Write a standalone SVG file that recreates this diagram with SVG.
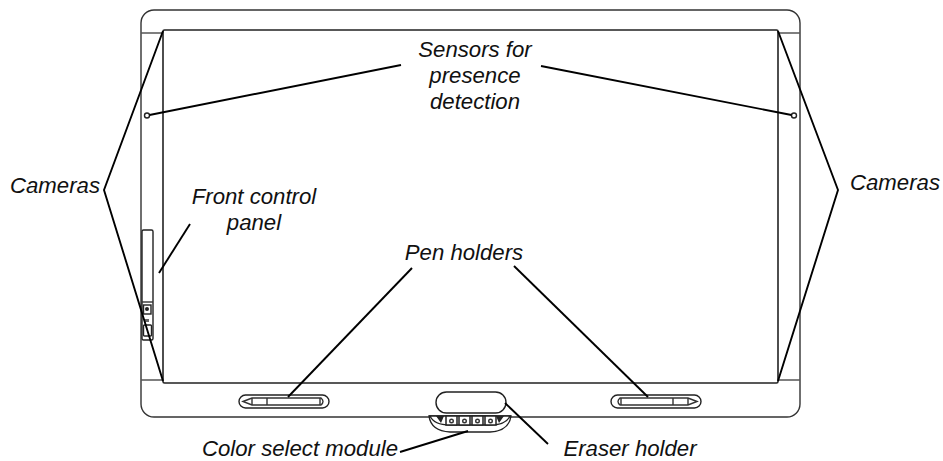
<svg xmlns="http://www.w3.org/2000/svg" width="943" height="461" viewBox="0 0 943 461">
<style>
text{font-family:"Liberation Sans",Arial,sans-serif;font-style:italic;font-size:22.2px;fill:#111;text-anchor:middle}
.o{fill:none;stroke:#333;stroke-width:1.4}
.t{fill:none;stroke:#555;stroke-width:1.4}
.w{fill:#fff;stroke:#222;stroke-width:1.4}
.l{fill:none;stroke:#000;stroke-width:1.9}
</style>
<rect width="943" height="461" fill="#fff"/>
<g id="board">
<rect class="o" x="141" y="10" width="659" height="407" rx="13"/>
<path class="t" d="M141 33H163M778 33H800M141 380H163M778 380H800"/>
<rect x="163" y="30" width="615" height="353" rx="1.5" fill="#fff" stroke="#222" stroke-width="1.6"/>
</g>
<g id="front-control-panel">
<rect class="w" x="142" y="230" width="11" height="110" rx="1.5"/>
<path class="o" d="M142 302H153"/>
<rect class="w" x="143.500" y="305" width="7.500" height="9"/>
<circle cx="147" cy="309" r="2" fill="#222"/>
<rect x="144" y="319" width="5" height="3" fill="#666"/>
<rect class="w" x="143.500" y="325" width="8" height="11" rx="1"/>
</g>
<g id="sensors">
<circle class="w" cx="147" cy="115.500" r="2.500"/>
<circle class="w" cx="794" cy="115.500" r="2.500"/>
</g>
<g id="pen-holder-left">
<rect class="w" x="239" y="395" width="90" height="13" rx="6.500"/>
<path class="o" d="M243 401.500L252 398H321Q325 401.500 321 405H252Z"/>
<path class="o" d="M252 398V405M267 398V405M320 398V405"/>
</g>
<g id="pen-holder-right">
<rect class="w" x="611" y="395" width="90" height="13" rx="6.500"/>
<path class="o" d="M697 401.500L688 398H620Q616 401.500 620 405H688Z"/>
<path class="o" d="M688 398V405M673 398V405M621 398V405"/>
</g>
<g id="color-select-module">
<path class="w" d="M429 416H511Q509 431 490 432H450Q431 431 429 416Z"/>
<path class="w" d="M430 416H510Q506 425 490 425H450Q434 425 430 416Z"/>
<path d="M436 416H444L441 423ZM504 416H496L499 423Z" fill="#222"/>
<rect x="446" y="416" width="11" height="9" fill="#fff" stroke="#222" stroke-width="1.500"/>
<rect x="459" y="416" width="11" height="9" fill="#fff" stroke="#222" stroke-width="1.500"/>
<rect x="472" y="416" width="11" height="9" fill="#fff" stroke="#222" stroke-width="1.500"/>
<rect x="485" y="416" width="11" height="9" fill="#fff" stroke="#222" stroke-width="1.500"/>
<circle class="o" cx="451.500" cy="421" r="1.800"/>
<circle class="o" cx="464.500" cy="421" r="1.800"/>
<circle class="o" cx="477.500" cy="421" r="1.800"/>
<circle class="o" cx="490.500" cy="421" r="1.800"/>
</g>
<g id="eraser-holder">
<rect class="w" x="436" y="392" width="70" height="21" rx="10.500"/>
</g>
<g id="connectors">
<path class="l" d="M163 31L104 190L163 381"/>
<path class="l" d="M778 31L838 190L778 381"/>
<path class="l" d="M149.500 115L401 65"/>
<path class="l" d="M791.500 115L541 66"/>
<path class="l" d="M159 273L190 224"/>
<path class="l" d="M288 397L412 268"/>
<path class="l" d="M648 397L514 266"/>
<path class="l" d="M505 403L548 444"/>
<path class="l" d="M400 452L468 431"/>
</g>
<g id="labels">
<text x="475" y="57">Sensors for</text>
<text x="475" y="83">presence</text>
<text x="475" y="109">detection</text>
<text x="55" y="193">Cameras</text>
<text x="895" y="190">Cameras</text>
<text x="254" y="204">Front control</text>
<text x="254" y="230">panel</text>
<text x="464" y="260">Pen holders</text>
<text x="300" y="456">Color select module</text>
<text x="630" y="456">Eraser holder</text>
</g>
</svg>
